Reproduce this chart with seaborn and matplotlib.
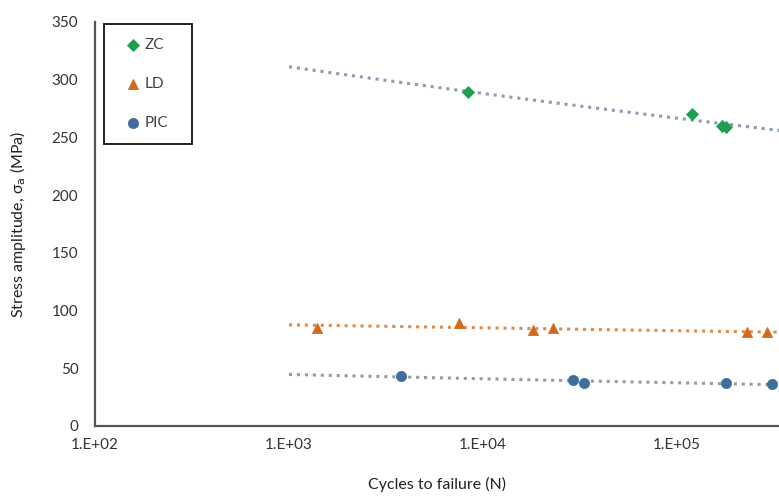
import numpy as np
import pandas as pd
import matplotlib
matplotlib.use("Agg")
import matplotlib.pyplot as plt
from matplotlib.patches import Rectangle
from matplotlib.ticker import FixedLocator, FuncFormatter
import seaborn as sns

# data
zc_cycles = [8.4e3, 1.2e5, 1.7e5, 1.8e5]
zc_stress = [289, 270, 260, 259]
ld_cycles = [1.4e3, 7.5e3, 1.8e4, 2.3e4, 2.3e5, 2.9e5]
ld_stress = [85, 89, 83, 85, 81, 81]
pic_cycles = [3.8e3, 2.9e4, 3.3e4, 1.8e5, 3.1e5]
pic_stress = [43, 40, 37, 37, 36]

series = ["ZC", "LD", "PIC"]
x_ticks = [1e2, 1e3, 1e4, 1e5]
x_tick_labels = ["1.E+02", "1.E+03", "1.E+04", "1.E+05"]
y_ticks = [0, 50, 100, 150, 200, 250, 300, 350]

df = pd.concat([
    pd.DataFrame({"N": zc_cycles, "S": zc_stress, "series": "ZC"}),
    pd.DataFrame({"N": ld_cycles, "S": ld_stress, "series": "LD"}),
    pd.DataFrame({"N": pic_cycles, "S": pic_stress, "series": "PIC"}),
])

marker_colors = {"ZC": "#1f9e4f", "LD": "#d2691e", "PIC": "#3f6e9e"}
trend_colors = {"ZC": "#8c9bb0", "LD": "#e08a48", "PIC": "#9a9a9a"}
markers = {"ZC": "D", "LD": "^", "PIC": "o"}
sizes = {"ZC": 38, "LD": 55, "PIC": 55}

sns.set_style("white")
plt.rcParams["font.family"] = ["Lato", "DejaVu Sans"]

fig = plt.figure(figsize=(7.79, 4.97), dpi=100)
ax = fig.add_axes([0.122, 0.143, 0.878, 0.813])

# power law trend lines (Excel style) from 1E+03 onwards
for name in series:
    sub = df[df["series"] == name]
    b, a = np.polyfit(np.log10(sub["N"]), np.log10(sub["S"]), 1)
    xs = np.logspace(3, 6, 50)
    ys = 10 ** (a + b * np.log10(xs))
    ax.plot(xs, ys, linestyle=(0, (1, 1.6)), color=trend_colors[name],
            linewidth=2.2, zorder=2)

for name in series:
    sub = df[df["series"] == name]
    sns.scatterplot(data=sub, x="N", y="S", ax=ax, marker=markers[name],
                    color=marker_colors[name], s=sizes[name],
                    edgecolor=marker_colors[name], linewidth=0.5,
                    zorder=3, label=name)

ax.set_xscale("log")
ax.set_xlim(1e2, 10 ** 5.526)
ax.set_ylim(0, 350)
ax.xaxis.set_major_locator(FixedLocator(x_ticks))
ax.xaxis.set_major_formatter(FuncFormatter(
    lambda v, p: x_tick_labels[x_ticks.index(v)] if v in x_ticks else ""))
ax.xaxis.set_minor_locator(FixedLocator([]))
ax.set_yticks(y_ticks)
ax.tick_params(axis="both", length=0, labelsize=11, colors="#333333")
ax.tick_params(axis="x", pad=9)
ax.tick_params(axis="y", pad=12)

for side in ["top", "right"]:
    ax.spines[side].set_visible(False)
for side in ["left", "bottom"]:
    ax.spines[side].set_color("#555555")
    ax.spines[side].set_linewidth(1.6)

ax.set_xlabel("Cycles to failure (N)", fontsize=11.5, color="#222222", labelpad=18)
ax.set_ylabel(r"Stress amplitude, σ$_\mathrm{a}$ (MPa)", fontsize=11.5,
              color="#222222", labelpad=17)

# legend entries without frame, plus a square box drawn around them
leg = ax.legend(loc="center left", bbox_to_anchor=(126 / 779, 1 - 84 / 497),
                bbox_transform=fig.transFigure, frameon=False, fontsize=11,
                handletextpad=0.3, borderpad=0.0, labelspacing=1.65,
                handlelength=0.9, borderaxespad=0.0)
for t in leg.get_texts():
    t.set_color("#444444")
fig.patches.append(Rectangle((104 / 779, 1 - 144 / 497), 88 / 779, 120 / 497,
                             transform=fig.transFigure, fill=False,
                             edgecolor="#222222", linewidth=1.4, zorder=5))

fig.savefig("out.png", dpi=100)
